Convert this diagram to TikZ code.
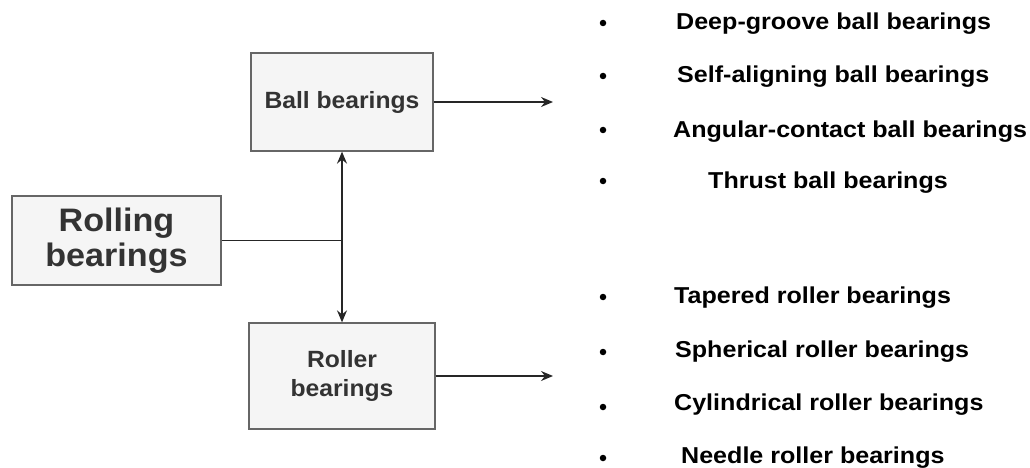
\documentclass[tikz,border=0pt]{standalone}
\usepackage{fontspec}
\setmainfont{Liberation Sans}
\newfontfamily\boxfont[FakeStretch=1.05]{Liberation Sans}
\newfontfamily\listfont[FakeStretch=1.09]{Liberation Sans}
\usetikzlibrary{arrows.meta}
\definecolor{boxfill}{HTML}{F5F5F5}
\definecolor{boxline}{HTML}{666666}
\definecolor{boxtext}{HTML}{333333}
\begin{document}
\begin{tikzpicture}[x=1pt,y=-1pt,
  catbox/.style={draw=boxline,fill=boxfill,line width=1.3pt,rectangle,align=center,inner sep=0pt,text=boxtext},
  conn/.style={line width=1.5pt,draw=black!85},
  arr/.style={conn,-{Stealth[length=12pt,width=10pt,inset=4pt]}},
  item/.style={anchor=base west,inner sep=0pt,font=\listfont\bfseries\fontsize{23}{27}\selectfont},
  dot/.style={circle,fill=black,inner sep=0pt,minimum size=6.5pt}]
\useasboundingbox (0,0) rectangle (1030,468);
\node[catbox,minimum width=209pt,minimum height=89pt,font=\boxfont\bfseries\fontsize{32.5}{35.5}\selectfont] (rolling) at (116.5,240.5) {Rolling\\bearings};
\node[catbox,minimum width=182pt,minimum height=98pt,font=\boxfont\bfseries\fontsize{23.5}{28}\selectfont] (ball) at (342,102) {Ball bearings};
\node[catbox,minimum width=186pt,minimum height=106pt,font=\boxfont\bfseries\fontsize{23.5}{29}\selectfont] (roller) at (342,376) {Roller\\bearings};
\coordinate (j) at (rolling.east -| ball.south);
\coordinate (ballend) at (553,102);
\coordinate (rollerend) at (553,376);
\draw[conn] (rolling.east) -- (j);
\draw[arr] (j) -- (ball.south);
\draw[arr] (j) -- (roller.north);
\draw[arr] (ball.east) -- (ballend);
\draw[arr] (roller.east) -- (rollerend);
% ball list
\node[dot] (b1) at (603,23) {};
\node[dot] (b2) at (603,76) {};
\node[dot] (b3) at (603,130) {};
\node[dot] (b4) at (603,181) {};
\node[item] (t1) at (676,30) {Deep-groove ball bearings};
\node[item] (t2) at (677,83) {Self-aligning ball bearings};
\node[item] (t3) at (673,137) {Angular-contact ball bearings};
\node[item] (t4) at (708,188) {Thrust ball bearings};
% roller list
\node[dot] (r1) at (603,297) {};
\node[dot] (r2) at (603,352) {};
\node[dot] (r3) at (603,407) {};
\node[dot] (r4) at (603,458) {};
\node[item] (u1) at (674,303) {Tapered roller bearings};
\node[item] (u2) at (675,357) {Spherical roller bearings};
\node[item] (u3) at (674,410) {Cylindrical roller bearings};
\node[item] (u4) at (681,463) {Needle roller bearings};
\end{tikzpicture}
\end{document}
